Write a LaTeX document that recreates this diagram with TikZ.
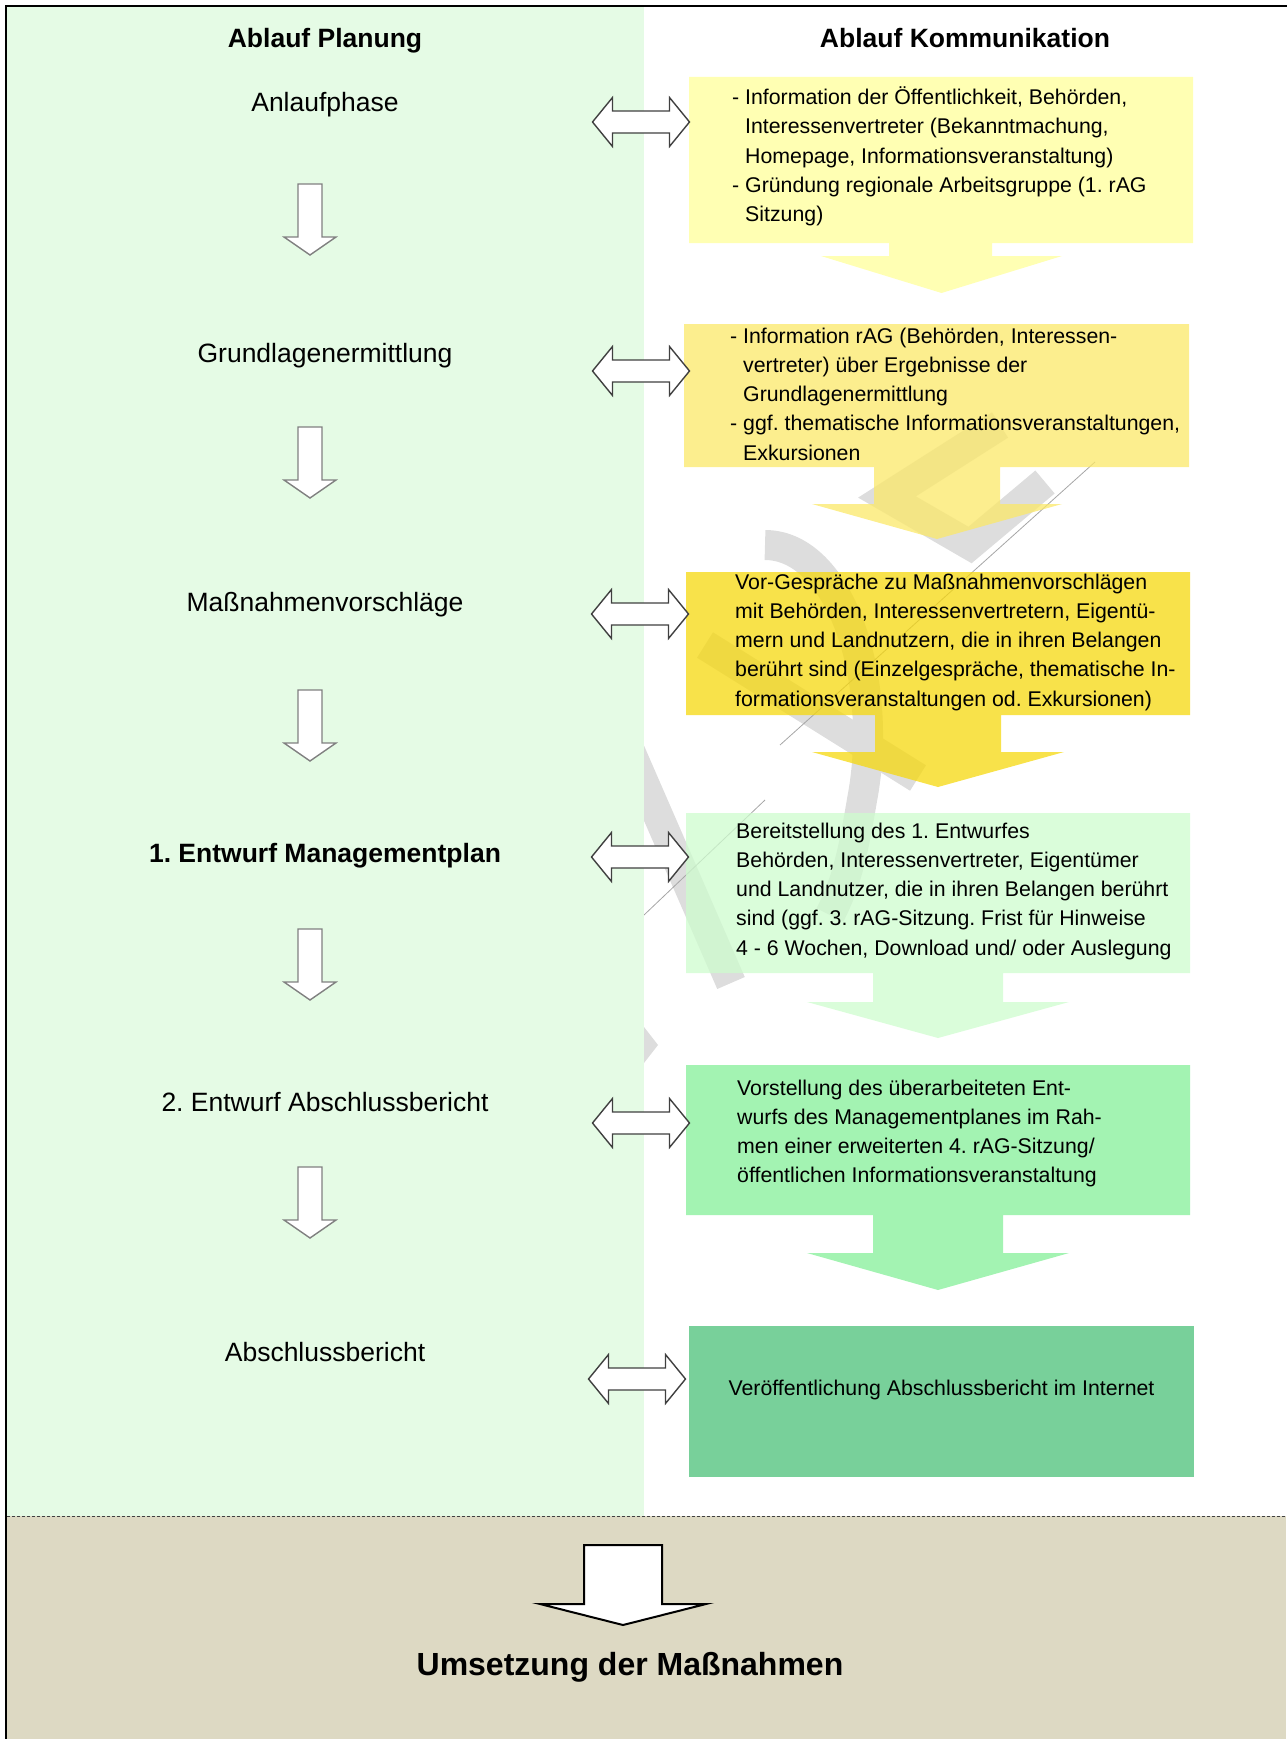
\documentclass[tikz,border=0pt]{standalone}
\usepackage{fontspec}
\setmainfont{Liberation Sans}
\usetikzlibrary{positioning}
\frenchspacing

\definecolor{planbg}{RGB}{229,251,229}
\definecolor{umbg}{RGB}{221,217,195}
\definecolor{kom1}{RGB}{255,255,154}
\definecolor{kom2}{RGB}{251,232,104}
\definecolor{kom3}{RGB}{246,216,14}
\definecolor{kom4}{RGB}{206,252,206}
\definecolor{kom5}{RGB}{132,239,152}
\definecolor{kom6}{RGB}{120,208,154}
\definecolor{wmgrey}{RGB}{221,221,221}
\definecolor{arrgrey}{RGB}{128,128,128}
\definecolor{arrdark}{RGB}{64,64,64}

\begin{document}
\begin{tikzpicture}[x=1pt, y=-1pt,
    kbox/.style={anchor=north west, inner sep=0pt, outer sep=0pt},
    ktext/.style={anchor=base west, inner sep=0pt, font=\fontsize{21.3}{29.3}\selectfont},
    phase/.style={anchor=base, inner sep=0pt, font=\fontsize{26.5}{32}\selectfont},
    downarr/.style={draw=arrgrey, fill=white, line width=1.4pt},
    dblarr/.style={draw=arrdark, fill=white, line width=1.4pt},
    wmark/.style={draw=wmgrey, line width=30pt}]
\useasboundingbox (0,0) rectangle (1286,1739);

% backgrounds
\fill[planbg] (7,7) rectangle (644,1516);
\fill[umbg] (7,1516) rectangle (1286,1739);
\draw[arrdark, line width=1pt, dash pattern=on 3pt off 2pt] (7,1516) -- (1286,1516);

% watermark (behind the boxes)
\begin{scope}
\clip (644,0) rectangle (1286,1516);
\draw[wmark] (620,728) -- (731,983);
\draw[wmark] (705,645) -- (918,778);
\draw[wmark] (765,545) .. controls (840,545) and (885,680) .. (862,800)
    .. controls (852,860) and (845,885) .. (830,915);
\draw[wmark, line join=miter] (1000,425) -- (887,497) -- (970,545) -- (1045,482);
\fill[wmgrey] (644,1027) -- (658,1045) -- (644,1063) -- cycle;
\draw[black!35, line width=0.8pt] (780,745) -- (1095,462);
\draw[black!35, line width=0.8pt] (644,915) -- (765,800);
\end{scope}

% boxes
\node[kbox, minimum width=504, minimum height=166] (k1) at (689,77) {};
\node[kbox, minimum width=505, minimum height=143] (k2) at (684,324) {};
\node[kbox, minimum width=504, minimum height=143] (k3) at (686,572) {};
\node[kbox, minimum width=504, minimum height=160] (k4) at (686,813) {};
\node[kbox, minimum width=504, minimum height=150] (k5) at (686,1065) {};
\node[kbox, minimum width=505, minimum height=151] (k6) at (689,1326) {};

\fill[kom1, fill opacity=.75] (k1.north west) -- (k1.north east) -- (k1.south east)
    -- (992,243) -- (992,256) -- (1062,256) -- (941.5,293) -- (821,256) -- (889,256)
    -- (889,243) -- (k1.south west) -- cycle;
\fill[kom2, fill opacity=.75] (k2.north west) -- (k2.north east) -- (k2.south east)
    -- (1000,467) -- (1000,504) -- (1062,504) -- (937,539) -- (812,504) -- (874,504)
    -- (874,467) -- (k2.south west) -- cycle;
\fill[kom3, fill opacity=.75] (k3.north west) -- (k3.north east) -- (k3.south east)
    -- (1001,715) -- (1001,752) -- (1064,752) -- (938,787) -- (812,752) -- (875,752)
    -- (875,715) -- (k3.south west) -- cycle;
\fill[kom4, fill opacity=.75] (k4.north west) -- (k4.north east) -- (k4.south east)
    -- (1003,973) -- (1003,1002) -- (1069,1002) -- (938,1038) -- (807,1002) -- (873,1002)
    -- (873,973) -- (k4.south west) -- cycle;
\fill[kom5, fill opacity=.75] (k5.north west) -- (k5.north east) -- (k5.south east)
    -- (1003,1215) -- (1003,1253) -- (1069,1253) -- (938,1290) -- (807,1253) -- (873,1253)
    -- (873,1215) -- (k5.south west) -- cycle;
\fill[kom6] (k6.north west) rectangle (k6.south east);

% headers
\node[phase, font=\fontsize{26.5}{32}\selectfont\bfseries] (hplan) at (325,48) {Ablauf Planung};
\node[phase, font=\fontsize{26.5}{32}\selectfont\bfseries] (hkom) at (965,48) {Ablauf Kommunikation};

% Ablauf Planung
\node[phase] (p1) at (325,112) {Anlaufphase};
\node[phase] (p2) at (325,362) {Grundlagenermittlung};
\node[phase] (p3) at (325,611) {Maßnahmenvorschläge};
\node[phase, font=\fontsize{26.5}{32}\selectfont\bfseries] (p4) at (325,862) {1. Entwurf Managementplan};
\node[phase] (p5) at (325,1111) {2. Entwurf Abschlussbericht};
\node[phase] (p6) at (325,1361) {Abschlussbericht};

\draw[downarr] (298,184) -- ++(24,0) -- ++(0,53) -- ++(14,0) -- ++(-26,18) -- ++(-26,-18) -- ++(14,0) -- cycle;
\draw[downarr] (298,427) -- ++(24,0) -- ++(0,53) -- ++(14,0) -- ++(-26,18) -- ++(-26,-18) -- ++(14,0) -- cycle;
\draw[downarr] (298,690) -- ++(24,0) -- ++(0,53) -- ++(14,0) -- ++(-26,18) -- ++(-26,-18) -- ++(14,0) -- cycle;
\draw[downarr] (298,929) -- ++(24,0) -- ++(0,53) -- ++(14,0) -- ++(-26,18) -- ++(-26,-18) -- ++(14,0) -- cycle;
\draw[downarr] (298,1167) -- ++(24,0) -- ++(0,53) -- ++(14,0) -- ++(-26,18) -- ++(-26,-18) -- ++(14,0) -- cycle;

% Ablauf Kommunikation
\node[ktext] (t1) at (732,104.5) {\begin{tabular}[t]{@{}l@{}}
- Information der Öffentlichkeit, Behörden,\\
\phantom{- }Interessenvertreter (Bekanntmachung,\\
\phantom{- }Homepage, Informationsveranstaltung)\\
- Gründung regionale Arbeitsgruppe (1. rAG\\
\phantom{- }Sitzung)\end{tabular}};
\node[ktext] (t2) at (730,343) {\begin{tabular}[t]{@{}l@{}}
- Information rAG (Behörden, Interessen-\\
\phantom{- }vertreter) über Ergebnisse der\\
\phantom{- }Grundlagenermittlung\\
- ggf. thematische Informationsveranstaltungen,\\
\phantom{- }Exkursionen\end{tabular}};
\node[ktext] (t3) at (735,589) {\begin{tabular}[t]{@{}l@{}}
Vor-Gespräche zu Maßnahmenvorschlägen\\
mit Behörden, Interessenvertretern, Eigentü-\\
mern und Landnutzern, die in ihren Belangen\\
berührt sind (Einzelgespräche, thematische In-\\
formationsveranstaltungen od. Exkursionen)\end{tabular}};
\node[ktext] (t4) at (736,838) {\begin{tabular}[t]{@{}l@{}}
Bereitstellung des 1. Entwurfes\\
Behörden, Interessenvertreter, Eigentümer\\
und Landnutzer, die in ihren Belangen berührt\\
sind (ggf. 3. rAG-Sitzung. Frist für Hinweise\\
4 - 6 Wochen, Download und/ oder Auslegung\end{tabular}};
\node[ktext] (t5) at (737,1095) {\begin{tabular}[t]{@{}l@{}}
Vorstellung des überarbeiteten Ent-\\
wurfs des Managementplanes im Rah-\\
men einer erweiterten 4. rAG-Sitzung/\\
öffentlichen Informationsveranstaltung\end{tabular}};
\node[ktext, anchor=base] (t6) at ([yshift=6.5pt]k6.center) {Veröffentlichung Abschlussbericht im Internet};

\draw[dblarr] (592.5,122) -- ++(20,-24.5) -- ++(0,13.5) -- ++(57,0) -- ++(0,-13.5) -- ++(20,24.5) -- ++(-20,24.5) -- ++(0,-13.5) -- ++(-57,0) -- ++(0,13.5) -- cycle;
\draw[dblarr] (592.5,371) -- ++(20,-24.5) -- ++(0,13.5) -- ++(57,0) -- ++(0,-13.5) -- ++(20,24.5) -- ++(-20,24.5) -- ++(0,-13.5) -- ++(-57,0) -- ++(0,13.5) -- cycle;
\draw[dblarr] (591.5,614) -- ++(20,-24.5) -- ++(0,13.5) -- ++(57,0) -- ++(0,-13.5) -- ++(20,24.5) -- ++(-20,24.5) -- ++(0,-13.5) -- ++(-57,0) -- ++(0,13.5) -- cycle;
\draw[dblarr] (591.5,857) -- ++(20,-24.5) -- ++(0,13.5) -- ++(57,0) -- ++(0,-13.5) -- ++(20,24.5) -- ++(-20,24.5) -- ++(0,-13.5) -- ++(-57,0) -- ++(0,13.5) -- cycle;
\draw[dblarr] (592.5,1123) -- ++(20,-24.5) -- ++(0,13.5) -- ++(57,0) -- ++(0,-13.5) -- ++(20,24.5) -- ++(-20,24.5) -- ++(0,-13.5) -- ++(-57,0) -- ++(0,13.5) -- cycle;
\draw[dblarr] (588.5,1379) -- ++(20,-24.5) -- ++(0,13.5) -- ++(57,0) -- ++(0,-13.5) -- ++(20,24.5) -- ++(-20,24.5) -- ++(0,-13.5) -- ++(-57,0) -- ++(0,13.5) -- cycle;

% Umsetzung
\draw[draw=black, fill=white, line width=2pt] (584,1545) -- (662,1545) -- (662,1604) -- (706,1604) -- (623,1625) -- (540,1604) -- (584,1604) -- cycle;
\node[anchor=base, inner sep=0pt, font=\fontsize{32}{38}\selectfont\bfseries] (umsetz) at (630,1675) {Umsetzung der Maßnahmen};

% frame
\draw[line width=2pt] (6,1760) -- (6,6) -- (1300,6);
\end{tikzpicture}
\end{document}
